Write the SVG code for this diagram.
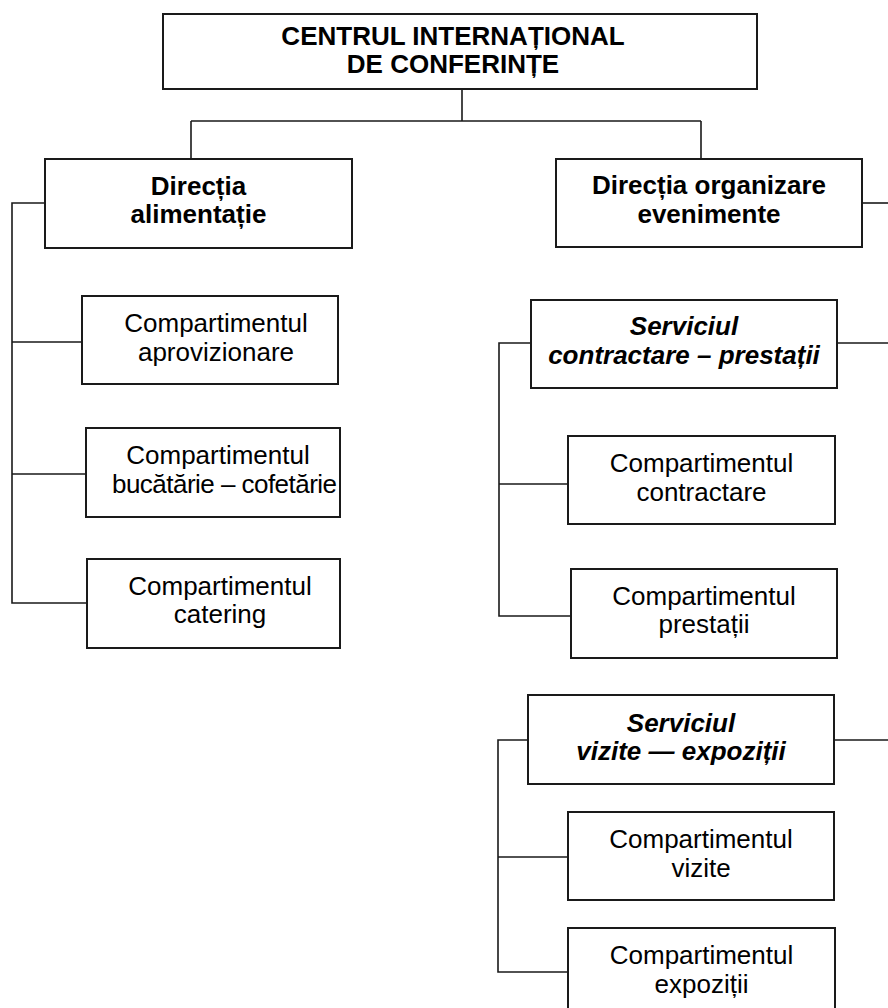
<svg xmlns="http://www.w3.org/2000/svg" width="888" height="1008" viewBox="0 0 888 1008">
<style>
.box{fill:#fff;stroke:#1a1a1a;stroke-width:2}
.ln{fill:none;stroke:#1a1a1a;stroke-width:1.6}
text{font-family:"Liberation Sans",Arial,sans-serif;font-size:26px;fill:#000;text-anchor:middle}
.b{font-weight:bold}
.bi{font-weight:bold;font-style:italic}
</style>
<rect width="888" height="1008" fill="#fff"/>
<g id="connectors">
<path class="ln" d="M462 89V121M191 121H701M191 121V159M701 121V159"/>
<path class="ln" d="M45 203H12V603H87M12 342H82M12 474H86"/>
<path class="ln" d="M862 203H888"/>
<path class="ln" d="M531 343H499V616H571M499 484H568M837 343H888"/>
<path class="ln" d="M528 740H498V972H568M498 857H568M834 740H888"/>
</g>
<g id="root">
<rect class="box" x="163" y="14" width="594" height="75"/>
<text class="b" x="453" y="45">CENTRUL INTERNAȚIONAL</text>
<text class="b" x="453" y="73">DE CONFERINȚE</text>
</g>
<g id="dir-alimentatie">
<rect class="box" x="45" y="159" width="307" height="89"/>
<text class="b" x="198.5" y="195">Direcția</text>
<text class="b" x="198.5" y="223">alimentație</text>
</g>
<g id="dir-evenimente">
<rect class="box" x="556" y="159" width="306" height="88"/>
<text class="b" x="709" y="194">Direcția organizare</text>
<text class="b" x="709" y="223">evenimente</text>
</g>
<g id="comp-aprovizionare">
<rect class="box" x="82" y="296" width="256" height="88"/>
<text x="216" y="332">Compartimentul</text>
<text x="216" y="361">aprovizionare</text>
</g>
<g id="comp-bucatarie">
<rect class="box" x="86" y="428" width="254" height="89"/>
<text x="218" y="464">Compartimentul</text>
<text x="224.5" y="493" textLength="225">bucătărie – cofetărie</text>
</g>
<g id="comp-catering">
<rect class="box" x="87" y="559" width="253" height="89"/>
<text x="220" y="595">Compartimentul</text>
<text x="220" y="623">catering</text>
</g>
<g id="serv-contractare">
<rect class="box" x="531" y="300" width="306" height="88"/>
<text class="bi" x="684" y="335">Serviciul</text>
<text class="bi" x="684" y="364">contractare – prestații</text>
</g>
<g id="comp-contractare">
<rect class="box" x="568" y="436" width="267" height="88"/>
<text x="701.5" y="472">Compartimentul</text>
<text x="701.5" y="501">contractare</text>
</g>
<g id="comp-prestatii">
<rect class="box" x="571" y="569" width="266" height="89"/>
<text x="704" y="605">Compartimentul</text>
<text x="704" y="633">prestații</text>
</g>
<g id="serv-vizite">
<rect class="box" x="528" y="695" width="306" height="89"/>
<text class="bi" x="681" y="732">Serviciul</text>
<text class="bi" x="681" y="760">vizite — expoziții</text>
</g>
<g id="comp-vizite">
<rect class="box" x="568" y="812" width="266" height="88"/>
<text x="701" y="848">Compartimentul</text>
<text x="701" y="877">vizite</text>
</g>
<g id="comp-expozitii">
<rect class="box" x="568" y="928" width="267" height="90"/>
<text x="701.5" y="964">Compartimentul</text>
<text x="701.5" y="993">expoziții</text>
</g>
</svg>
